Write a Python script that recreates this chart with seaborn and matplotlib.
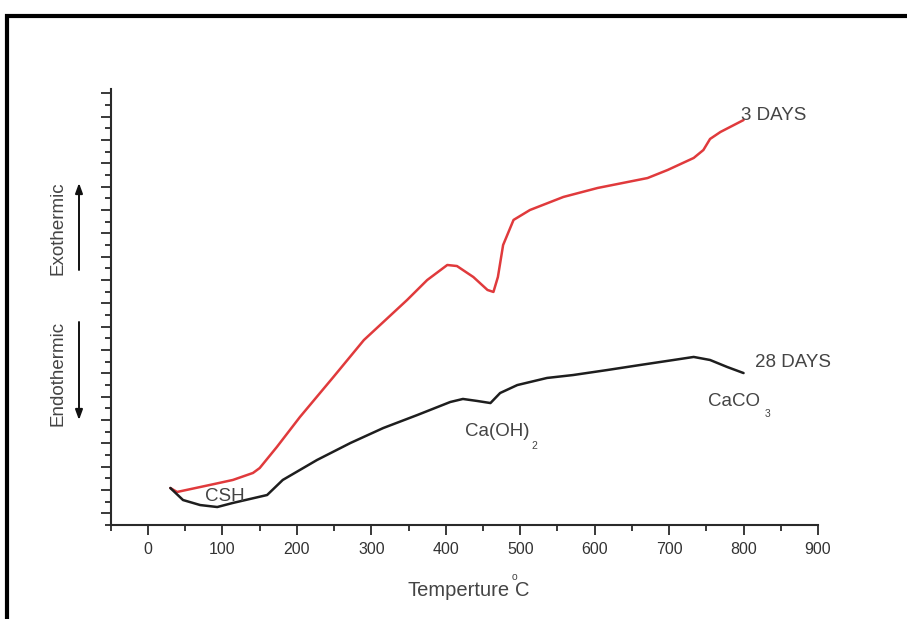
import numpy as np
import pandas as pd
import matplotlib
matplotlib.use("Agg")
import matplotlib.pyplot as plt
from matplotlib.patches import Rectangle, FancyArrowPatch
from matplotlib.ticker import MultipleLocator, FixedLocator
import seaborn as sns

# DTA traces (temperature in deg C, signal in arbitrary units)
temp_3d = [30, 39, 83, 114, 141, 150, 173, 204, 249, 290, 348, 375, 402, 415,
           437, 456, 464, 470, 477, 491, 513, 558, 604, 671, 698, 733, 746,
           755, 769, 800]
sig_3d = [3.17, 2.83, 3.43, 3.86, 4.46, 4.88, 6.68, 9.25, 12.68, 15.85, 19.28,
          20.99, 22.28, 22.19, 21.25, 20.14, 19.97, 21.25, 23.99, 26.14, 26.99,
          28.11, 28.88, 29.73, 30.42, 31.45, 32.13, 33.08, 33.68, 34.70]

temp_28d = [30, 47, 70, 93, 114, 137, 160, 181, 227, 272, 316, 362, 406, 423,
            442, 460, 473, 496, 536, 571, 617, 661, 706, 733, 755, 778, 800]
sig_28d = [3.17, 2.14, 1.71, 1.54, 1.89, 2.23, 2.57, 3.86, 5.57, 7.03, 8.31,
           9.43, 10.54, 10.80, 10.63, 10.45, 11.31, 11.99, 12.60, 12.85, 13.28,
           13.71, 14.14, 14.40, 14.14, 13.54, 13.02]

x_ticks = [0, 100, 200, 300, 400, 500, 600, 700, 800, 900]

df = pd.concat([
    pd.DataFrame({"temp": temp_3d, "signal": sig_3d, "age": "3 DAYS"}),
    pd.DataFrame({"temp": temp_28d, "signal": sig_28d, "age": "28 DAYS"}),
])

sns.set_style("ticks")
plt.rcParams["font.family"] = ["Liberation Sans", "DejaVu Sans"]

W, H = 907, 619
fig = plt.figure(figsize=(W / 100, H / 100), dpi=100)
ax = fig.add_axes([110.8 / W, 1 - 525 / H, (818 - 110.8) / W, (525 - 89) / H])

sns.lineplot(data=df, x="temp", y="signal", hue="age", sort=False,
             palette={"3 DAYS": "#e03a3c", "28 DAYS": "#1e1e1e"},
             linewidth=1.8, legend=False, ax=ax, estimator=None)
for line in ax.lines:
    line.set_solid_joinstyle("round")

ax.set_xlim(-50, 900)
ax.set_ylim(0, 37.36)
ax.xaxis.set_major_locator(FixedLocator(x_ticks))
ax.xaxis.set_minor_locator(MultipleLocator(50))
ax.yaxis.set_major_locator(FixedLocator(np.arange(1, 38, 2)))
ax.yaxis.set_minor_locator(FixedLocator(np.arange(0, 38, 2)))
ax.set_yticklabels([])
ax.set_xticklabels([str(v) for v in x_ticks])

for side in ("top", "right"):
    ax.spines[side].set_visible(False)
for side in ("left", "bottom"):
    ax.spines[side].set_linewidth(1.5)
    ax.spines[side].set_color("#2a2a2a")

ax.tick_params(axis="both", which="major", direction="out", length=7,
               width=1.3, color="#2a2a2a")
ax.tick_params(axis="both", which="minor", direction="out", length=4.5,
               width=1.3, color="#2a2a2a")
ax.tick_params(axis="x", labelsize=11.5, labelcolor="#333333", pad=5)
ax.set_xlabel("")
ax.set_ylabel("")

txt = dict(color="#444444", fontsize=13.5)
sub = dict(color="#444444", fontsize=7.5, ha="center", va="center")


def fig_xy(px, py):
    return px / W, 1 - py / H


ax.text(796, 35.1, "3 DAYS", ha="left", va="center", **txt)
ax.text(815, 13.9, "28 DAYS", ha="left", va="center", **txt)
ax.text(752, 10.6, "CaCO", ha="left", va="center", **txt)
fig.text(*fig_xy(768, 414), "3", **sub)
ax.text(426, 8.05, "Ca(OH)", ha="left", va="center", **txt)
fig.text(*fig_xy(534, 446), "2", **sub)
ax.text(77, 2.4, "CSH", ha="left", va="center", **txt)

# axis title with degree mark
fig.text(*fig_xy(510, 591), "Temperture", ha="right", va="center",
         color="#444444", fontsize=14.5)
fig.text(*fig_xy(515, 591), "C", ha="left", va="center",
         color="#444444", fontsize=14.5)
fig.text(*fig_xy(514, 577), "o", **sub)

# thermal direction indicators
fig.text(*fig_xy(58, 228), "Exothermic", rotation=90, ha="center",
         va="center", **txt)
fig.text(*fig_xy(58, 373), "Endothermic", rotation=90, ha="center",
         va="center", **txt)
arrow = dict(arrowstyle="-|>,head_length=0.6,head_width=0.22",
             mutation_scale=10, color="#111111", lw=1.4,
             shrinkA=0, shrinkB=0, transform=fig.transFigure)
fig.add_artist(FancyArrowPatch(fig_xy(79, 270), fig_xy(79, 183), **arrow))
fig.add_artist(FancyArrowPatch(fig_xy(79, 322), fig_xy(79, 420), **arrow))

# outer frame
fig.add_artist(Rectangle((6.5 / W, -0.2), 1.2, 1 - 16 / H + 0.2,
                         transform=fig.transFigure, fill=False,
                         edgecolor="black", linewidth=3.0, clip_on=False))

fig.savefig("out.png", dpi=100, facecolor="white")
